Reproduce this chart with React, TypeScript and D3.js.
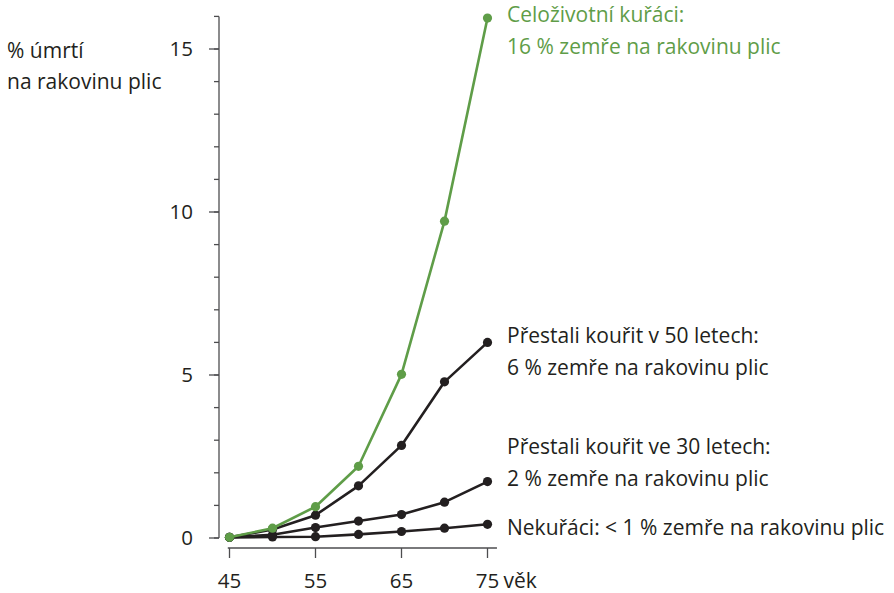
import * as d3 from 'd3'

const ages = [45, 50, 55, 60, 65, 70, 75]
const lifelongSmokers = [0.02, 0.3, 0.96, 2.2, 5.02, 9.72, 15.95]
const quitAt50 = [0.02, 0.26, 0.7, 1.6, 2.84, 4.79, 6.0]
const quitAt30 = [0.02, 0.1, 0.32, 0.52, 0.72, 1.1, 1.73]
const nonSmokers = [0.02, 0.03, 0.04, 0.11, 0.2, 0.3, 0.42]

const xTicks = [45, 55, 65, 75]
const yTicks = [0, 5, 10, 15]
const yMinorTicks = d3.range(0, 17, 1)

const series = [
  { name: 'Nekuřáci', values: nonSmokers, color: '#231f20', label: ['Nekuřáci: < 1 % zemře na rakovinu plic'] },
  { name: '30', values: quitAt30, color: '#231f20', label: ['Přestali kouřit ve 30 letech:', '2 % zemře na rakovinu plic'] },
  { name: '50', values: quitAt50, color: '#231f20', label: ['Přestali kouřit v 50 letech:', '6 % zemře na rakovinu plic'] },
  { name: 'life', values: lifelongSmokers, color: '#5f9d48', label: ['Celoživotní kuřáci:', '16 % zemře na rakovinu plic'] },
]

// baseline of the first label line for each series, in data units (y)
const labelBaselines = [0.09, 2.58, 5.98, 15.83]

const W = 894
const H = 593
const font = '"Open Sans", "Noto Sans", sans-serif'
const textColor = '#231f20'
const axisColor = '#4d4d4f'

export default function App() {
  const x = d3.scaleLinear().domain([45, 75]).range([229.5, 487.5])
  const y = d3.scaleLinear().domain([0, 16]).range([538, 16.4])

  const line = d3
    .line<number>()
    .x((_, i) => x(ages[i]))
    .y((d) => y(d))

  const axisX = 219
  const axisY = 548

  return (
    <svg
      width={W}
      height={H}
      style={{ position: 'absolute', left: 0, top: 0, background: '#fff' }}
      fontFamily={font}
    >
      {/* y axis */}
      <line x1={axisX} x2={axisX} y1={y(16)} y2={y(0)} stroke={axisColor} strokeWidth={1.3} />
      {yMinorTicks.map((t) => (
        <line key={'m' + t} x1={axisX - 5} x2={axisX} y1={y(t)} y2={y(t)} stroke={axisColor} strokeWidth={1.3} />
      ))}
      {yTicks.map((t) => (
        <g key={'y' + t}>
          <line x1={axisX - 10} x2={axisX} y1={y(t)} y2={y(t)} stroke={axisColor} strokeWidth={1.3} />
          <text x={193} y={y(t)} dy="0.36em" textAnchor="end" fontSize={20.5} fill={textColor}>
            {t}
          </text>
        </g>
      ))}
      <text x={7} y={58} fontSize={21} fill={textColor}>
        <tspan x={7}>% úmrtí</tspan>
        <tspan x={7} dy={31}>na rakovinu plic</tspan>
      </text>

      {/* x axis */}
      <line x1={x(44.8)} x2={x(76.1)} y1={axisY} y2={axisY} stroke={axisColor} strokeWidth={1.3} />
      {xTicks.map((t) => (
        <g key={'x' + t}>
          <line x1={x(t)} x2={x(t)} y1={axisY} y2={axisY + 10} stroke={axisColor} strokeWidth={1.3} />
          <text x={x(t)} y={588} textAnchor="middle" fontSize={20.5} fill={textColor}>
            {t}
          </text>
        </g>
      ))}
      <text x={x(75) + 16} y={588} fontSize={21} fill={textColor}>
        věk
      </text>

      {/* series */}
      {series.map((s) => (
        <g key={s.name}>
          <path d={line(s.values) || ''} fill="none" stroke={s.color} strokeWidth={2.6} strokeLinejoin="round" />
          {s.values.map((v, i) => (
            <circle key={i} cx={x(ages[i])} cy={y(v)} r={4.6} fill={s.color} />
          ))}
        </g>
      ))}

      {/* labels */}
      {series.map((s, k) => (
        <text key={'l' + s.name} x={507} y={y(labelBaselines[k])} fontSize={21} fill={s.color}>
          {s.label.map((l, j) => (
            <tspan key={j} x={507} dy={j === 0 ? 0 : 32}>
              {l}
            </tspan>
          ))}
        </text>
      ))}
    </svg>
  )
}
